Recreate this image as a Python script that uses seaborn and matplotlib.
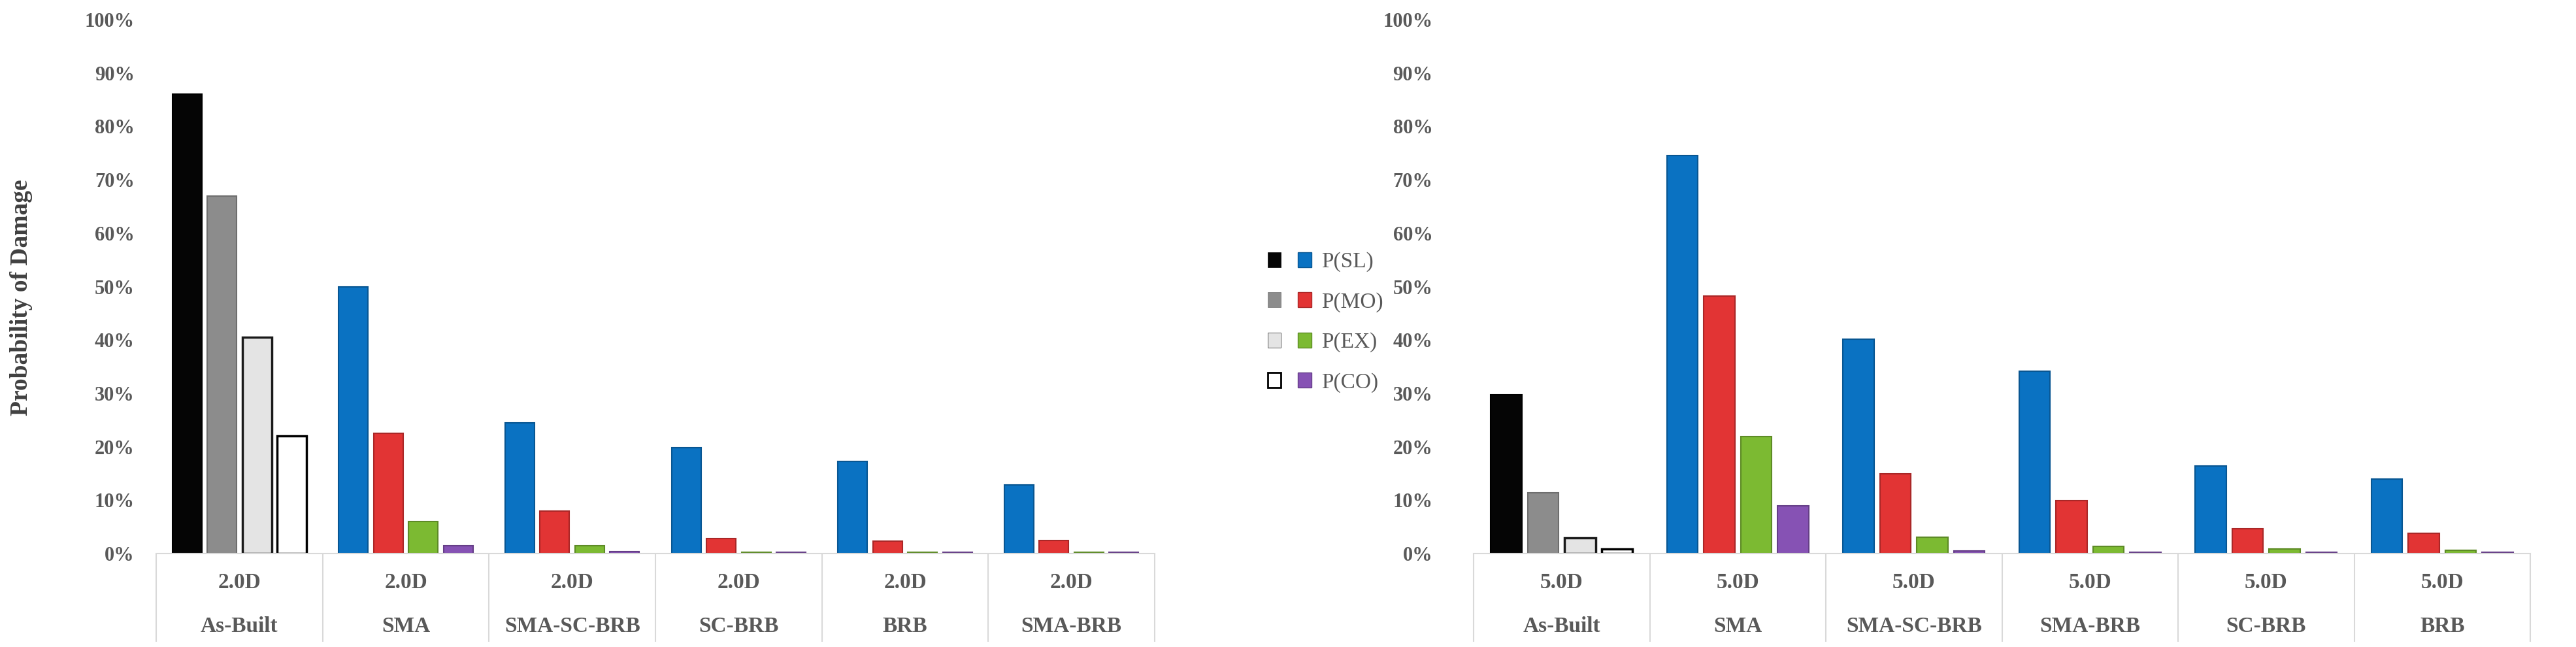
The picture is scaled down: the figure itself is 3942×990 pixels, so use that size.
import numpy as np
import pandas as pd
import matplotlib
matplotlib.use("Agg")
import matplotlib.pyplot as plt
import seaborn as sns
from matplotlib.patches import Patch
from matplotlib.legend_handler import HandlerTuple
import matplotlib.colors as mcolors

# ---------------- data ----------------
states = ["P(SL)", "P(MO)", "P(EX)", "P(CO)"]

left_intensity = "2.0D"
left_cats = ["As-Built", "SMA", "SMA-SC-BRB", "SC-BRB", "BRB", "SMA-BRB"]
left_sl = [86.0, 50.0, 24.5, 19.8, 17.2, 12.9]
left_mo = [67.0, 22.5, 8.0, 2.8, 2.3, 2.5]
left_ex = [40.5, 6.0, 1.5, 0.3, 0.3, 0.3]
left_co = [22.0, 1.5, 0.4, 0.3, 0.3, 0.3]

right_intensity = "5.0D"
right_cats = ["As-Built", "SMA", "SMA-SC-BRB", "SMA-BRB", "SC-BRB", "BRB"]
right_sl = [29.7, 74.5, 40.2, 34.2, 16.4, 14.0]
right_mo = [11.4, 48.2, 14.9, 9.9, 4.6, 3.8]
right_ex = [2.9, 21.9, 3.0, 1.3, 0.8, 0.6]
right_co = [0.8, 8.9, 0.5, 0.3, 0.3, 0.3]

y_ticks = list(range(0, 101, 10))
y_label = "Probability of Damage"

# ---------------- style ----------------
state_colors = ["#0a72c2", "#e23434", "#7cba32", "#8652b4"]
asbuilt_colors = ["#050505", "#8c8c8c", "#e4e4e4", "#ffffff"]
asbuilt_edges = ["#000000", "#6e6e6e", "#1a1a1a", "#000000"]
text_gray = "#595959"
line_gray = "#d9d9d9"

sns.set_theme(style="white")
plt.rcParams['font.family'] = ['Liberation Serif', 'DejaVu Serif']


def darker(c, f=0.75):
    r, g, b = mcolors.to_rgb(c)
    return (r * f, g * f, b * f)


def make_df(cats, sl, mo, ex, co):
    rows = []
    for st, vals in zip(states, [sl, mo, ex, co]):
        for c, v in zip(cats, vals):
            rows.append({"system": c, "state": st, "p": v})
    return pd.DataFrame(rows)


def draw(ax, cats, intensity, sl, mo, ex, co, ypad, show_ylabel):
    df = make_df(cats, sl, mo, ex, co)
    sns.barplot(data=df, x="system", y="p", hue="state", order=cats,
                hue_order=states, palette=state_colors, saturation=1,
                width=0.84, gap=0.16, legend=False, ax=ax, linewidth=1.5,
                errorbar=None)
    for i, cont in enumerate(ax.containers):
        for j, bar in enumerate(cont):
            if cats[j] == "As-Built":
                bar.set_facecolor(asbuilt_colors[i])
                bar.set_edgecolor(asbuilt_edges[i])
                bar.set_linewidth(2.5 if i >= 2 else 1.5)
            else:
                bar.set_edgecolor(darker(state_colors[i]))
    ax.set_ylim(0, 100)
    ax.set_xlim(-0.5, len(cats) - 0.5)
    ax.set_yticks(y_ticks)
    ax.set_yticklabels([f"{v}%" for v in y_ticks], fontweight="bold",
                       fontsize=22, color=text_gray)
    ax.set_xticks(range(len(cats)))
    ax.set_xticklabels([f"{intensity}\n{c}" for c in cats], fontweight="bold",
                       fontsize=24, color=text_gray, linespacing=2.5)
    ax.tick_params(axis="y", length=0, pad=ypad)
    ax.tick_params(axis="x", length=0, pad=21)
    for s in ["top", "right", "left"]:
        ax.spines[s].set_visible(False)
    ax.spines["bottom"].set_color(line_gray)
    ax.spines["bottom"].set_linewidth(1.5)
    ax.vlines(np.arange(-0.5, len(cats)), -0.165, 0,
              transform=ax.get_xaxis_transform(), colors=line_gray,
              linewidth=1.5, clip_on=False)
    ax.set_xlabel("")
    if show_ylabel:
        ax.set_ylabel(y_label, fontsize=27, fontweight="bold", color="#404040")
        ax.yaxis.set_label_coords(-0.124, 0.48)
    else:
        ax.set_ylabel("")
    ax.grid(False)


W, H = 3942, 990
fig = plt.figure(figsize=(W / 100, H / 100), dpi=100)
ax1 = fig.add_axes([239 / W, 1 - 847 / H, (1767 - 239) / W, (847 - 30) / H])
ax2 = fig.add_axes([2255 / W, 1 - 847 / H, (3872 - 2255) / W, (847 - 30) / H])

draw(ax1, left_cats, left_intensity, left_sl, left_mo, left_ex, left_co, 24, True)
draw(ax2, right_cats, right_intensity, right_sl, right_mo, right_ex, right_co, 45, False)

handles = []
for i in range(4):
    h1 = Patch(facecolor=asbuilt_colors[i], edgecolor=asbuilt_edges[i],
               linewidth=2.0 if i == 3 else 0.5)
    h2 = Patch(facecolor=state_colors[i], edgecolor=darker(state_colors[i]),
               linewidth=1.0)
    handles.append((h1, h2))

leg = fig.legend(handles, states, handler_map={tuple: HandlerTuple(ndivide=None, pad=0.78)},
                 loc="center left", bbox_to_anchor=(1940 / W, 0.502),
                 frameon=False, fontsize=24, handlelength=2.0, handleheight=0.7,
                 handletextpad=0.45, labelspacing=0.92, borderpad=0, borderaxespad=0)
for t in leg.get_texts():
    t.set_color(text_gray)

fig.savefig("out.png", dpi=100, facecolor="white")
